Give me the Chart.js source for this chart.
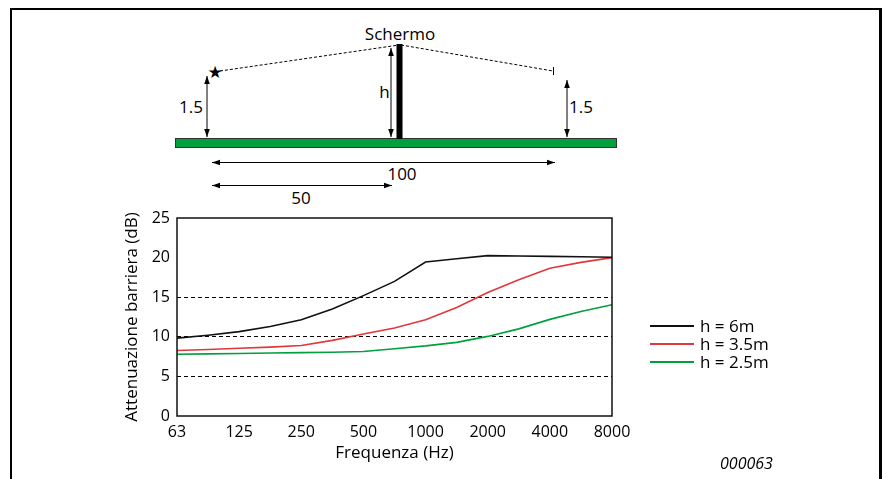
<!DOCTYPE html>
<html>
<head>
<meta charset="utf-8">
<script src="https://cdn.jsdelivr.net/npm/chart.js@4.4.1/dist/chart.umd.min.js"></script>
<style>
  html, body { margin: 0; padding: 0; background: #fff; }
  body { width: 887px; height: 479px; position: relative; overflow: hidden; font-family: "Open Sans", sans-serif; }
  #frame { position: absolute; left: 10px; top: 8px; width: 872px; height: 520px;
           border-left: 2px solid #000; border-top: 2px solid #000; border-right: 3px solid #000; box-sizing: border-box; }
  #chart { position: absolute; left: 0; top: 0; }
  #diagram { position: absolute; left: 0; top: 0; }
  #legend { position: absolute; left: 650px; top: 317px; font-size: 17px; color: #000; }
  #legend .row { height: 18px; line-height: 18px; display: flex; align-items: center; white-space: nowrap; }
  #legend .sw { display: inline-block; width: 44px; height: 2px; margin-right: 6px; }
  #code { position: absolute; left: 720px; top: 452px; font-size: 16px; font-style: italic; color: #000; }
</style>
</head>
<body>
<div id="frame"></div>
<svg id="diagram" width="887" height="479" xmlns="http://www.w3.org/2000/svg" font-family="Open Sans, sans-serif" font-size="17">
  <defs>
    <marker id="ah" viewBox="0 0 10 10" refX="10" refY="5" markerWidth="8" markerHeight="8" orient="auto-start-reverse" markerUnits="userSpaceOnUse">
      <path d="M0,1.5 L10,5 L0,8.5 z" fill="#000"/>
    </marker>
  </defs>
  <text x="400" y="33" text-anchor="middle" dominant-baseline="central">Schermo</text>
  <line x1="220" y1="71" x2="399" y2="45" stroke="#000" stroke-width="1" stroke-dasharray="3,2"/>
  <line x1="401" y1="45" x2="553" y2="71" stroke="#000" stroke-width="1" stroke-dasharray="3,2"/>
  <line x1="553.5" y1="67" x2="553.5" y2="75" stroke="#000" stroke-width="1"/>
  <text x="215" y="72" text-anchor="middle" dominant-baseline="central" font-family="DejaVu Sans" font-size="17">★</text>
  <rect x="175.5" y="138.5" width="441" height="9" fill="#00a03c" stroke="#333" stroke-width="1"/>
  <rect x="396.5" y="44" width="6" height="95" fill="#000"/>
  <line x1="207" y1="76" x2="207" y2="137" stroke="#000" stroke-width="1" marker-start="url(#ah)" marker-end="url(#ah)"/>
  <line x1="391" y1="48" x2="391" y2="137" stroke="#000" stroke-width="1" marker-start="url(#ah)" marker-end="url(#ah)"/>
  <line x1="567" y1="80" x2="567" y2="137" stroke="#000" stroke-width="1" marker-start="url(#ah)" marker-end="url(#ah)"/>
  <line x1="212" y1="162.5" x2="555" y2="162.5" stroke="#000" stroke-width="1" marker-start="url(#ah)" marker-end="url(#ah)"/>
  <line x1="212" y1="185.5" x2="392" y2="185.5" stroke="#000" stroke-width="1" marker-start="url(#ah)" marker-end="url(#ah)"/>
  <text x="191" y="106" text-anchor="middle" dominant-baseline="central">1.5</text>
  <text x="384.5" y="91" text-anchor="middle" dominant-baseline="central">h</text>
  <text x="581" y="106" text-anchor="middle" dominant-baseline="central">1.5</text>
  <text x="402" y="173" text-anchor="middle" dominant-baseline="central">100</text>
  <text x="301" y="197" text-anchor="middle" dominant-baseline="central">50</text>
</svg>
<canvas id="chart" width="887" height="479"></canvas>
<div id="legend"></div>
<div id="code">000063</div>
<script>
// Frequency tick labels (one per octave band)
const freqLabels = ['63', '125', '250', '500', '1000', '2000', '4000', '8000'];
// Sample positions along the axis, in octaves from 63 Hz (half-octave readings)
const octavePos = [0, 0.5, 1, 1.5, 2, 2.5, 3, 3.5, 4, 4.5, 5, 5.5, 6, 6.5, 7];
// Barrier attenuation (dB)
const h6m   = [9.83, 10.2, 10.65, 11.3, 12.15, 13.5, 15.2, 17.0, 19.45, 19.85, 20.25, 20.2, 20.15, 20.1, 20.05];
const h35m  = [8.27, 8.4, 8.55, 8.7, 8.9, 9.55, 10.35, 11.1, 12.15, 13.7, 15.6, 17.2, 18.65, 19.4, 20.0];
const h25m  = [7.8, 7.85, 7.9, 7.95, 8.0, 8.05, 8.15, 8.5, 8.85, 9.3, 10.05, 11.0, 12.2, 13.2, 14.05];
const seriesNames  = ['h = 6m', 'h = 3.5m', 'h = 2.5m'];
const seriesColors = ['#111111', '#e0383a', '#00a03c'];
const seriesValues = [h6m, h35m, h25m];
const yTicks = [0, 5, 10, 15, 20, 25];
const dashedLevels = [5, 10, 15];

const datasets = seriesValues.map((vals, i) => ({
  label: seriesNames[i],
  data: vals.map((v, k) => ({ x: octavePos[k], y: v })),
  borderColor: seriesColors[i],
  backgroundColor: seriesColors[i],
  borderWidth: 1.6,
  pointRadius: 0,
  tension: 0,
  fill: false
}));

const boxPlugin = {
  id: 'box',
  afterDatasetsDraw(chart) {
    const a = chart.chartArea, ctx = chart.ctx;
    ctx.save();
    ctx.strokeStyle = '#111';
    ctx.lineWidth = 1.5;
    ctx.setLineDash([]);
    ctx.strokeRect(a.left, a.top, a.right - a.left, a.bottom - a.top);
    ctx.restore();
  }
};

new Chart(document.getElementById('chart'), {
  type: 'line',
  data: { datasets },
  plugins: [boxPlugin],
  options: {
    responsive: false,
    animation: false,
    layout: { padding: { left: 100, right: 275, top: 218, bottom: 13 } },
    plugins: { legend: { display: false }, tooltip: { enabled: false } },
    scales: {
      x: {
        type: 'linear', min: 0, max: freqLabels.length - 1,
        afterFit: s => { s.height = 50; },
        afterBuildTicks: s => { s.ticks = freqLabels.map((_, i) => ({ value: i })); },
        ticks: {
          color: '#000', padding: 7, maxRotation: 0, autoSkip: false,
          font: { family: 'Open Sans', size: 16 },
          callback: v => freqLabels[v]
        },
        grid: { display: false, drawTicks: false },
        border: { display: false },
        title: { display: true, text: 'Frequenza (Hz)', color: '#000',
                 font: { family: 'Open Sans', size: 17 }, padding: { top: 0, bottom: 2.8 } }
      },
      y: {
        min: 0, max: 25,
        afterFit: s => { s.width = 77; },
        afterBuildTicks: s => { s.ticks = yTicks.map(v => ({ value: v })); },
        ticks: { color: '#000', padding: 7, font: { family: 'Open Sans', size: 16 } },
        grid: {
          drawTicks: false, lineWidth: 1,
          color: c => dashedLevels.includes(c.tick && c.tick.value) ? '#000' : 'rgba(0,0,0,0)'
        },
        border: { display: false, dash: [4, 3] },
        title: { display: true, text: 'Attenuazione barriera (dB)', color: '#000',
                 font: { family: 'Open Sans', size: 17 }, padding: { top: 21.5, bottom: 0 } }
      }
    }
  }
});

const legend = document.getElementById('legend');
seriesNames.forEach((name, i) => {
  const row = document.createElement('div');
  row.className = 'row';
  const sw = document.createElement('span');
  sw.className = 'sw';
  sw.style.background = seriesColors[i];
  const tx = document.createElement('span');
  tx.textContent = name;
  row.appendChild(sw); row.appendChild(tx);
  legend.appendChild(row);
});
</script>
</body>
</html>
